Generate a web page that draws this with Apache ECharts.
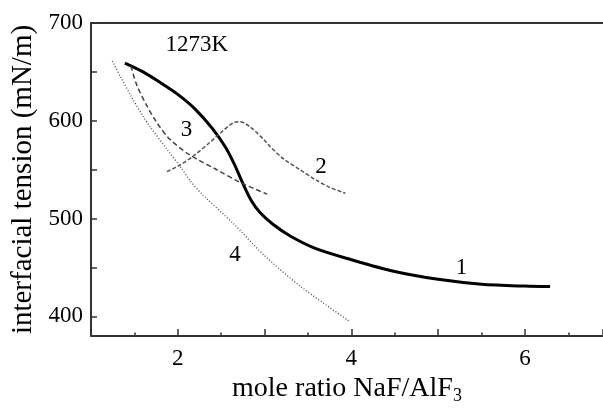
<!DOCTYPE html>
<html>
<head>
<meta charset="utf-8">
<script src="https://cdn.jsdelivr.net/npm/echarts@6.0.0/dist/echarts.min.js"></script>
<style>
  html, body { margin: 0; padding: 0; background: #fff; }
  #chart { width: 603px; height: 410px; }
</style>
</head>
<body>
<div id="chart"></div>
<script>
// curve data: [mole ratio, tension]
const curve1 = [[1.39,659],[1.60,650],[1.80,639],[2.00,627],[2.20,612],[2.40,592],[2.55,573],[2.65,556],[2.75,536],[2.85,518],[2.95,506],[3.10,494],[3.30,482],[3.60,469],[4.00,458],[4.50,446],[5.00,438],[5.50,433],[6.00,431],[6.29,430.5]];
const curve2 = [[1.875,548],[2.03,555],[2.18,564],[2.37,578],[2.51,589],[2.64,598],[2.72,599],[2.83,594],[2.99,581],[3.06,574],[3.22,561],[3.41,550],[3.60,539],[3.75,532],[3.93,526]];
const curve3 = [[1.46,656],[1.53,636],[1.64,616],[1.76,598],[1.91,581],[2.14,565],[2.45,550],[2.72,537],[3.03,525]];
const curve4 = [[1.245,661],[1.34,645],[1.47,624],[1.59,606],[1.68,594],[1.875,571],[2.03,553],[2.14,539],[2.28,525],[2.64,495],[2.99,463],[3.41,431],[3.98,395]];

const xLabels = [2, 4, 6];
const yLabels = [400, 500, 600, 700];
const yTicks = [400, 450, 500, 550, 600, 650, 700];

// text annotations: [x, y, text]
const notes = [[2.22,677.5,'1273K'],[2.10,591,'3'],[3.65,553,'2'],[2.66,462.6,'4'],[5.27,449.3,'1']];

const font = 'Liberation Serif';
const axisColor = '#333';

const chart = echarts.init(document.getElementById('chart'));

const lineSeries = (data, width, color, type) => ({
  type: 'line',
  data: data,
  smooth: 0.3,
  symbol: 'none',
  lineStyle: { width: width, color: color, type: type },
  silent: true
});

chart.setOption({
  animation: false,
  grid: { left: 91, right: 0, top: 23, bottom: 63.5 },
  xAxis: [{
    type: 'value',
    min: 1,
    max: 6.9,
    interval: 1,
    name: 'mole ratio NaF/AlF{sub|3}',
    nameLocation: 'middle',
    nameGap: 37,
    nameTextStyle: {
      fontFamily: font, fontSize: 28, color: '#000',
      rich: { sub: { fontFamily: font, fontSize: 18, color: '#000', verticalAlign: 'bottom', padding: [14, 0, 0, 0] } }
    },
    axisLine: { lineStyle: { color: axisColor, width: 2 } },
    axisTick: { inside: true, length: 7, lineStyle: { color: axisColor, width: 1.5 } },
    minorTick: { show: true, splitNumber: 2, length: 3.5, lineStyle: { color: axisColor, width: 1.5 } },
    axisLabel: { customValues: xLabels, margin: 11, fontFamily: font, fontSize: 23, color: '#000' },
    splitLine: { show: false }
  }, {
    type: 'value',
    position: 'top',
    min: 1,
    max: 6.9,
    axisLine: { show: true, onZero: false, lineStyle: { color: axisColor, width: 2 } },
    axisTick: { show: false },
    axisLabel: { show: false },
    splitLine: { show: false }
  }],
  yAxis: {
    type: 'value',
    min: 380,
    max: 700,
    name: 'interfacial tension (mN/m)',
    nameLocation: 'middle',
    nameGap: 49,
    nameTextStyle: { fontFamily: font, fontSize: 29, color: '#000' },
    axisLine: { show: true, lineStyle: { color: axisColor, width: 2 } },
    axisTick: { inside: true, length: 6, customValues: yTicks, lineStyle: { color: axisColor, width: 1.5 } },
    axisLabel: { customValues: yLabels, margin: 8, fontFamily: font, fontSize: 23, color: '#000' },
    splitLine: { show: false }
  },
  series: [
    lineSeries(curve1, 3, '#000', 'solid'),
    lineSeries(curve2, 1.5, '#555', [4, 2]),
    lineSeries(curve3, 1.5, '#444', [5, 3]),
    lineSeries(curve4, 1.3, '#444', [1, 2]),
    {
      type: 'scatter',
      data: notes,
      symbolSize: 0,
      silent: true,
      itemStyle: { opacity: 1 },
      label: {
        show: true,
        position: 'inside',
        formatter: p => p.data[2],
        fontFamily: font,
        fontSize: 23,
        color: '#000',
        opacity: 1
      }
    }
  ]
});
</script>
</body>
</html>
